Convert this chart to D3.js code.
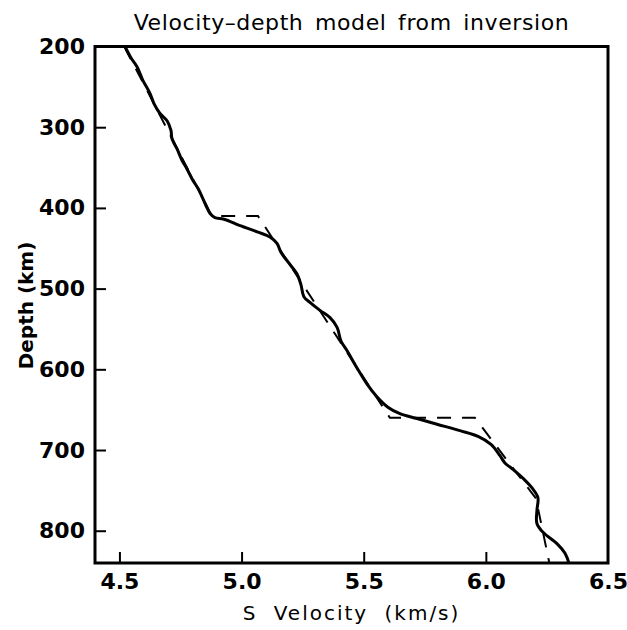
<!DOCTYPE html>
<html>
<head>
<meta charset="utf-8">
<script src="https://cdn.jsdelivr.net/npm/d3@7"></script>
<style>
  html, body { margin: 0; padding: 0; background: #fff; }
  svg text { font-family: "DejaVu Sans", sans-serif; fill: #000; }
</style>
</head>
<body>
<div id="chart"></div>
<script>
// inverted model (solid)
const invVelocity = [4.523, 4.547, 4.572, 4.596, 4.625, 4.642, 4.666, 4.695, 4.711, 4.715,
  4.736, 4.756, 4.777, 4.801, 4.822, 4.838, 4.854, 4.871, 4.891, 4.928,
  4.994, 5.067, 5.116, 5.145, 5.161, 5.190, 5.227, 5.243, 5.255, 5.280,
  5.321, 5.362, 5.391, 5.407, 5.432, 5.472, 5.513, 5.554, 5.599, 5.648,
  5.718, 5.800, 5.894, 5.968, 6.021, 6.058, 6.078, 6.111, 6.152, 6.189,
  6.213, 6.209, 6.209, 6.234, 6.291, 6.324, 6.340];
const invDepth = [200, 214, 225, 242, 258, 271, 283, 292, 304, 314,
  327, 341, 352, 366, 376, 386, 397, 407, 412, 414,
  422, 430, 436, 444, 455, 467, 482, 495, 510, 517,
  527, 536, 548, 565, 577, 598, 618, 634, 647, 655,
  661, 668, 676, 683, 693, 707, 716, 724, 735, 747,
  759, 775, 791, 802, 816, 828, 840];

// starting model (dashed)
const startVelocity = [4.52, 4.879, 5.067, 5.607, 5.955, 6.205, 6.26];
const startDepth = [200, 410, 410, 660, 660, 760, 840];

const xTicks = [4.5, 5.0, 5.5, 6.0, 6.5];
const yTicks = [200, 300, 400, 500, 600, 700, 800];

const width = 627, height = 630;
const margin = { top: 46.5, right: 19, bottom: 67, left: 95 };
const innerW = width - margin.left - margin.right;
const innerH = height - margin.top - margin.bottom;

const svg = d3.select('#chart').append('svg')
  .attr('width', width)
  .attr('height', height);

const g = svg.append('g')
  .attr('transform', `translate(${margin.left}, ${margin.top})`);

const x = d3.scaleLinear().domain([4.4, 6.5]).range([0, innerW]);
const y = d3.scaleLinear().domain([200, 840]).range([0, innerH]);

// ticks pointing inward, labels outside
const xAxis = g.append('g')
  .attr('transform', `translate(0, ${innerH})`)
  .call(d3.axisBottom(x).tickValues(xTicks).tickSize(-11).tickPadding(10)
    .tickFormat(d3.format('.1f')));
xAxis.select('.domain').remove();
xAxis.selectAll('line').attr('stroke-width', 2)
  .filter(d => d === 6.5).remove();
xAxis.selectAll('text')
  .style('font-size', '22px').style('font-weight', 'bold');

const yAxis = g.append('g')
  .call(d3.axisLeft(y).tickValues(yTicks).tickSize(-11).tickPadding(10)
    .tickFormat(d3.format('d')));
yAxis.select('.domain').remove();
yAxis.selectAll('line').attr('stroke-width', 2)
  .filter(d => d === 200).remove();
yAxis.selectAll('text')
  .style('font-size', '22px').style('font-weight', 'bold');

// curves
const startPts = startVelocity.map((v, i) => [v, startDepth[i]]);
const invPts = invVelocity.map((v, i) => [v, invDepth[i]]);

const line = d3.line().x(d => x(d[0])).y(d => y(d[1]));

g.append('path')
  .datum(startPts)
  .attr('fill', 'none')
  .attr('stroke', '#000')
  .attr('stroke-width', 2)
  .attr('stroke-dasharray', '14,11')
  .attr('d', line);

g.append('path')
  .datum(invPts)
  .attr('fill', 'none')
  .attr('stroke', '#000')
  .attr('stroke-width', 3)
  .attr('stroke-linejoin', 'round')
  .attr('d', line.curve(d3.curveCatmullRom));

// frame
g.append('rect')
  .attr('width', innerW)
  .attr('height', innerH)
  .attr('fill', 'none')
  .attr('stroke', '#000')
  .attr('stroke-width', 3);

// titles
svg.append('text')
  .attr('x', margin.left + innerW / 2)
  .attr('y', 30)
  .attr('text-anchor', 'middle')
  .style('font-size', '22px')
  .style('letter-spacing', '0.6px')
  .style('word-spacing', '4px')
  .text('Velocity\u2013depth model from inversion');

svg.append('text')
  .attr('x', margin.left + innerW / 2)
  .attr('y', 620)
  .attr('text-anchor', 'middle')
  .style('font-size', '20px')
  .style('letter-spacing', '2px')
  .style('word-spacing', '8px')
  .text('S Velocity (km/s)');

svg.append('text')
  .attr('transform', `translate(33, ${margin.top + y(600)}) rotate(-90)`)
  .attr('text-anchor', 'start')
  .style('font-size', '20px')
  .style('font-weight', 'bold')
  .text('Depth (km)');
</script>
</body>
</html>
